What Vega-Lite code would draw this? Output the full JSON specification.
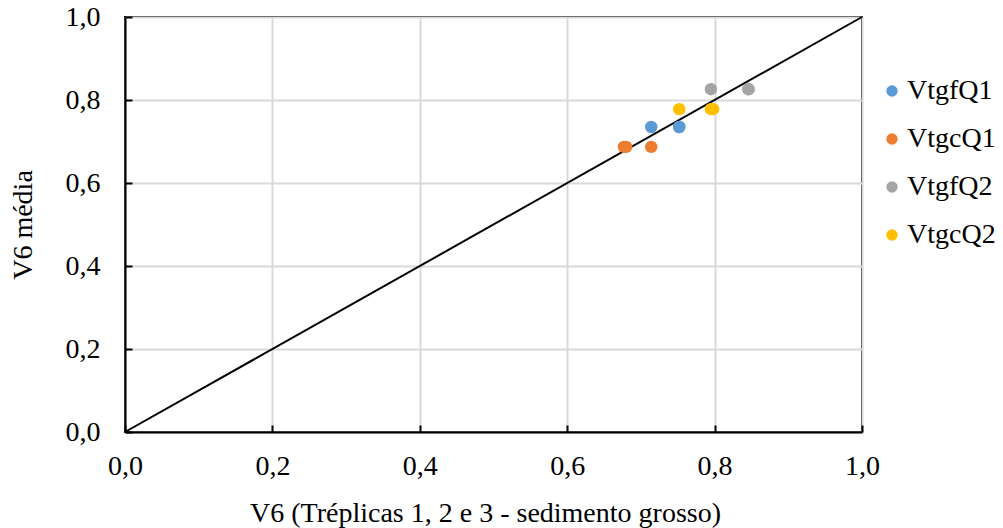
{
  "$schema": "https://vega.github.io/schema/vega-lite/v6.json",
  "width": 737,
  "height": 415,
  "autosize": {"type": "none"},
  "padding": {"left": 125, "top": 17, "right": 141, "bottom": 96},
  "background": "white",
  "config": {
    "font": "Liberation Serif",
    "view": {"stroke": "black", "strokeWidth": 2},
    "axis": {
      "labelFont": "Liberation Serif",
      "titleFont": "Liberation Serif",
      "labelFontSize": 28,
      "titleFontSize": 28,
      "labelColor": "black",
      "titleColor": "black",
      "titleFontWeight": "normal",
      "domainColor": "black",
      "domainWidth": 2,
      "tickColor": "black",
      "tickWidth": 2,
      "tickSize": -7,
      "gridColor": "#d9d9d9",
      "gridWidth": 2,
      "labelFlush": false,
      "labelOverlap": false
    },
    "legend": {
      "labelFont": "Liberation Serif",
      "labelFontSize": 28,
      "labelColor": "black"
    }
  },
  "datasets": {
    "pontos": [
      {"serie": "VtgfQ1", "triplicata": 0.714, "media": 0.735},
      {"serie": "VtgfQ1", "triplicata": 0.752, "media": 0.735},
      {"serie": "VtgfQ1", "triplicata": 0.752, "media": 0.735},
      {"serie": "VtgcQ1", "triplicata": 0.677, "media": 0.687},
      {"serie": "VtgcQ1", "triplicata": 0.680, "media": 0.687},
      {"serie": "VtgcQ1", "triplicata": 0.714, "media": 0.687},
      {"serie": "VtgfQ2", "triplicata": 0.795, "media": 0.826},
      {"serie": "VtgfQ2", "triplicata": 0.846, "media": 0.826},
      {"serie": "VtgfQ2", "triplicata": 0.846, "media": 0.826},
      {"serie": "VtgcQ2", "triplicata": 0.752, "media": 0.778},
      {"serie": "VtgcQ2", "triplicata": 0.795, "media": 0.778},
      {"serie": "VtgcQ2", "triplicata": 0.798, "media": 0.778}
    ],
    "linha11": [
      {"triplicata": 0, "media": 0},
      {"triplicata": 1, "media": 1}
    ]
  },
  "layer": [
    {
      "data": {"name": "linha11"},
      "mark": {"type": "line", "color": "black", "strokeWidth": 2},
      "encoding": {
        "x": {
          "field": "triplicata",
          "type": "quantitative",
          "scale": {"domain": [0, 1], "nice": false},
          "axis": {
            "values": [0, 0.2, 0.4, 0.6, 0.8, 1.0],
            "format": ".1f",
            "labelExpr": "replace(datum.label, '.', ',')",
            "labelPadding": 27,
            "title": "V6 (Tréplicas 1, 2 e 3 - sedimento grosso)",
            "titlePadding": 19,
            "titleX": 360
          }
        },
        "y": {
          "field": "media",
          "type": "quantitative",
          "scale": {"domain": [0, 1], "nice": false},
          "axis": {
            "values": [0, 0.2, 0.4, 0.6, 0.8, 1.0],
            "format": ".1f",
            "labelExpr": "replace(datum.label, '.', ',')",
            "labelPadding": 32,
            "title": "V6 média",
            "titlePadding": 28
          }
        }
      }
    },
    {
      "data": {"name": "pontos"},
      "mark": {"type": "point", "filled": true, "opacity": 1, "size": 155},
      "encoding": {
        "x": {"field": "triplicata", "type": "quantitative"},
        "y": {"field": "media", "type": "quantitative"},
        "color": {
          "field": "serie",
          "type": "nominal",
          "scale": {
            "domain": ["VtgfQ1", "VtgcQ1", "VtgfQ2", "VtgcQ2"],
            "range": ["#5b9bd5", "#ed7d31", "#a5a5a5", "#ffc000"]
          },
          "legend": {
            "title": null,
            "orient": "none",
            "legendX": 753,
            "legendY": 60,
            "symbolType": "circle",
            "symbolSize": 130,
            "symbolOpacity": 1,
            "labelOffset": 1,
            "rowPadding": 20
          }
        }
      }
    }
  ]
}
